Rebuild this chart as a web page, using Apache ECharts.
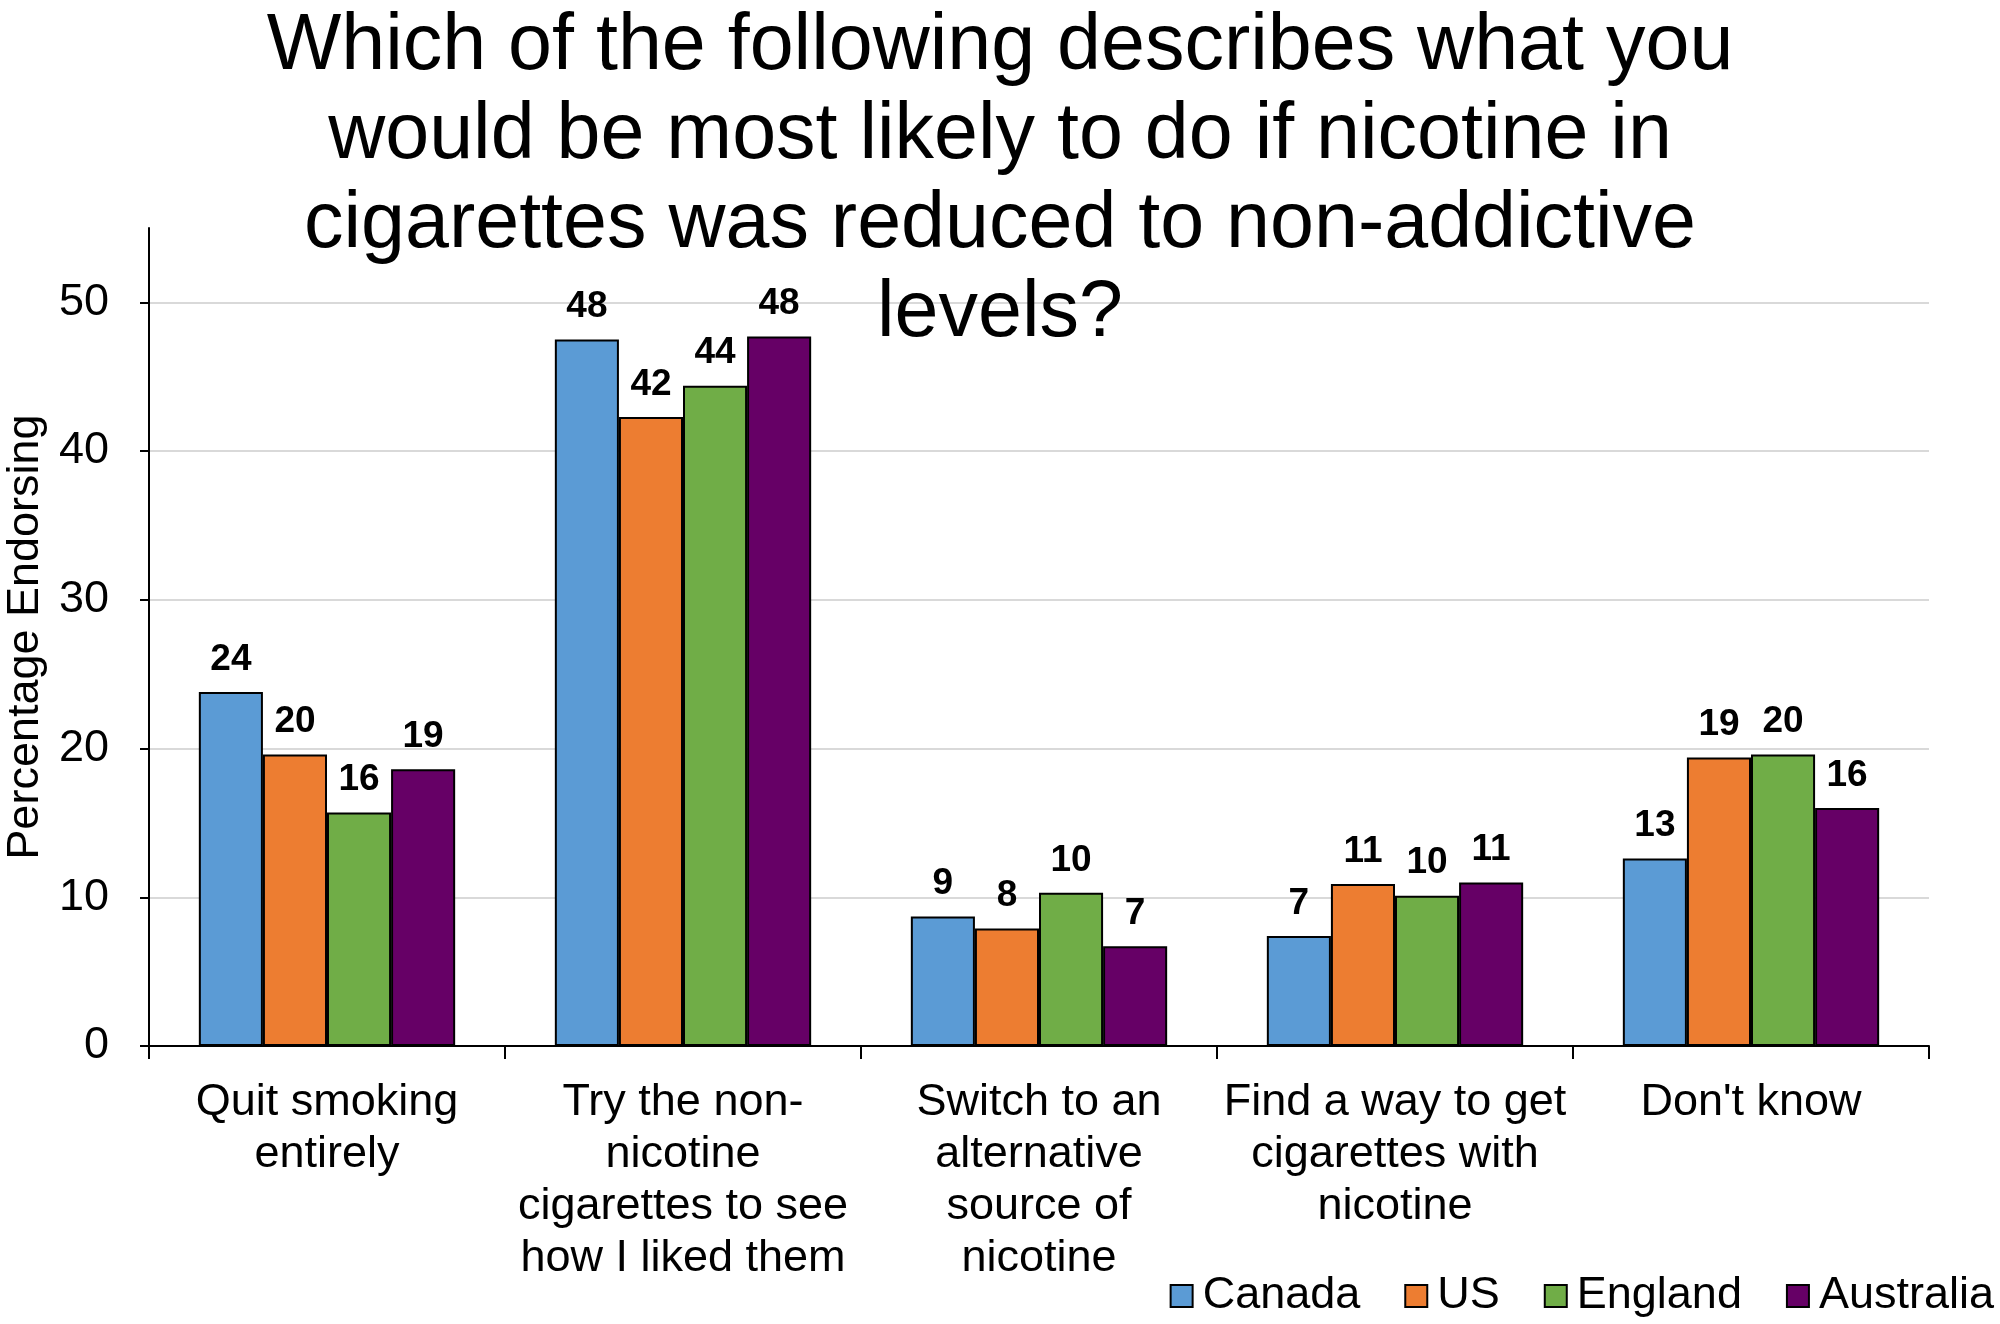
<!DOCTYPE html>
<html>
<head>
<meta charset="utf-8">
<script src="https://cdn.jsdelivr.net/npm/echarts@6/dist/echarts.min.js"></script>
<style>
html,body{margin:0;padding:0;background:#fff;}
#c{width:2000px;height:1324px;}
</style>
</head>
<body>
<div id="c"></div>
<script>
const titleText = 'Which of the following describes what you\nwould be most likely to do if nicotine in\ncigarettes was reduced to non-addictive\nlevels?';
const yAxisName = 'Percentage Endorsing';
const categories = [
  'Quit smoking\nentirely',
  'Try the non-\nnicotine\ncigarettes to see\nhow I liked them',
  'Switch to an\nalternative\nsource of\nnicotine',
  'Find a way to get\ncigarettes with\nnicotine',
  "Don't know"
];
const seriesNames = ['Canada', 'US', 'England', 'Australia'];
const canada    = [23.8, 47.5, 8.7, 7.4, 12.6];
const us        = [19.6, 42.3, 7.9, 10.9, 19.4];
const england   = [15.7, 44.4, 10.3, 10.1, 19.6];
const australia = [18.6, 47.7, 6.7, 11.0, 16.0];
const colors = ['#5B9BD5', '#ED7D31', '#70AD47', '#660066'];
const yTicks = [0, 10, 20, 30, 40, 50];
const gridValues = [10, 20, 30, 40, 50];

const FONT = "'Liberation Sans', Arial, sans-serif";
const LABEL_FONT = "'Liberation Sans Narrow', 'Arial Narrow', 'Liberation Sans', sans-serif";

const allData = [canada, us, england, australia];
const series = seriesNames.map((name, i) => ({
  name: name,
  type: 'bar',
  data: allData[i],
  barGap: '0%',
  barCategoryGap: '28%',
  itemStyle: { color: colors[i], borderColor: '#000', borderWidth: 2 },
  label: {
    show: true,
    position: 'top',
    distance: 14,
    formatter: p => String(Math.round(p.value)),
    fontFamily: LABEL_FONT,
    fontWeight: 'bold',
    fontSize: 37,
    color: '#000'
  }
}));

const chart = echarts.init(document.getElementById('c'), null, { renderer: 'canvas' });
chart.setOption({
  animation: false,
  backgroundColor: '#fff',
  title: {
    text: titleText,
    left: 'center',
    top: -2,
    textStyle: { fontFamily: FONT, fontSize: 79, lineHeight: 89, fontWeight: 'normal', color: '#000' }
  },
  legend: {
    data: seriesNames,
    right: 6,
    top: 1270,
    padding: 0,
    itemGap: 44,
    itemWidth: 22,
    itemHeight: 22,
    icon: 'rect',
    itemStyle: { borderColor: '#000', borderWidth: 2 },
    textStyle: { fontFamily: FONT, fontSize: 45, color: '#000', lineHeight: 52, padding: [0, 0, 0, 5] }
  },
  grid: { left: 149, right: 71, top: 228, bottom: 278, containLabel: false, outerBoundsMode: 'none' },
  xAxis: {
    type: 'category',
    data: categories,
    axisLine: { lineStyle: { color: '#000', width: 2 } },
    axisTick: { show: true, alignWithLabel: false, length: 13, lineStyle: { color: '#000', width: 2 } },
    axisLabel: { interval: 0, margin: 31, fontFamily: FONT, fontSize: 45, lineHeight: 52, color: '#000', align: 'center' }
  },
  yAxis: {
    type: 'value',
    min: 0,
    max: 55,
    interval: 10,
    name: yAxisName,
    nameLocation: 'middle',
    nameGap: 100,
    nameTextStyle: { fontFamily: FONT, fontSize: 45, color: '#000' },
    axisLine: { show: true, lineStyle: { color: '#000', width: 2 } },
    axisTick: { show: true, length: 9, customValues: yTicks, lineStyle: { color: '#000', width: 2 } },
    axisLabel: { margin: 40, customValues: yTicks, fontFamily: FONT, fontSize: 45, color: '#000' },
    splitLine: { show: false }
  },
  series: series.concat([{
    type: 'line',
    data: [],
    silent: true,
    markLine: {
      silent: true,
      symbol: 'none',
      label: { show: false },
      lineStyle: { color: '#d9d9d9', width: 2, type: 'solid' },
      z: 0,
      data: gridValues.map(v => ({ yAxis: v }))
    },
    z: 0
  }])
});
</script>
</body>
</html>
